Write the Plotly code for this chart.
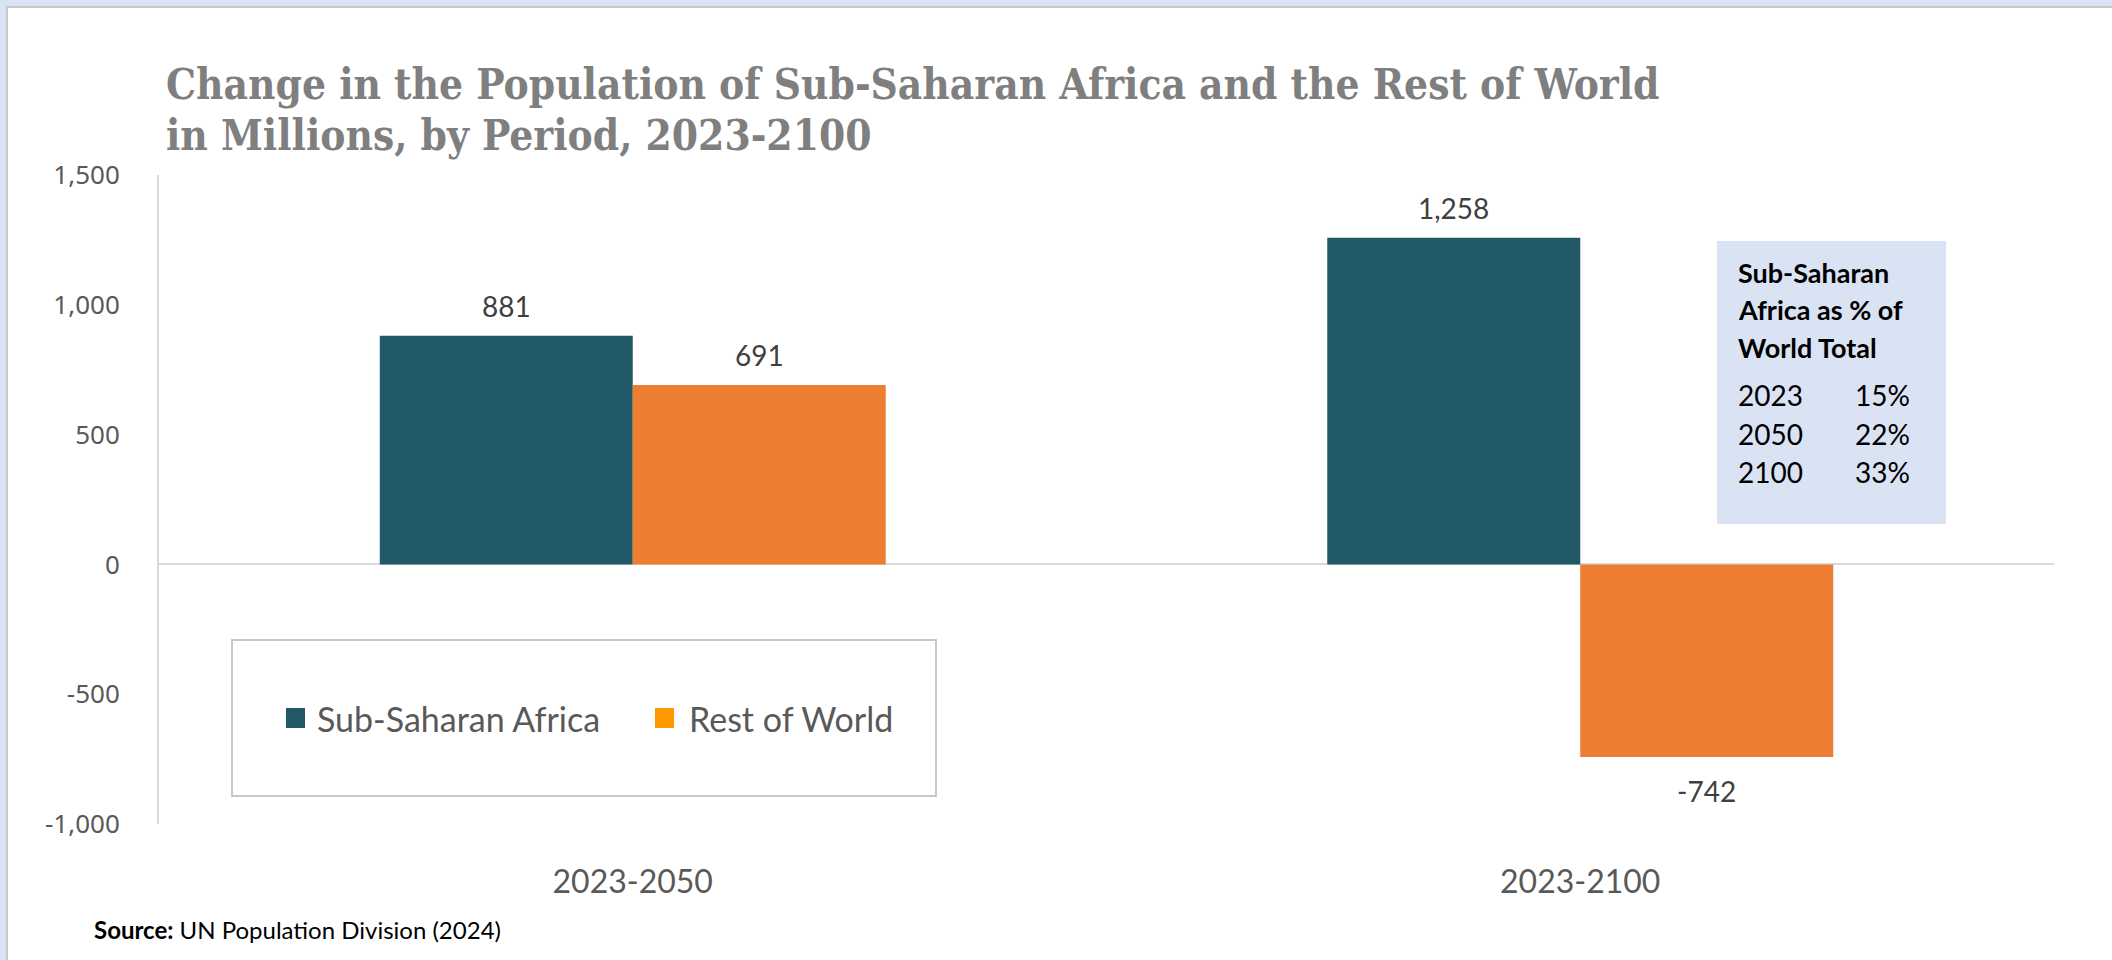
import plotly.graph_objects as go

# Data (millions)
periods = ["2023-2050", "2023-2100"]
ssa_change = [881, 1258]
row_change = [691, -742]
series_names = ["Sub-Saharan Africa", "Rest of World"]
share_years = ["2023", "2050", "2100"]
share_pct = [15, 22, 33]
y_ticks = [-1000, -500, 0, 500, 1000, 1500]

TEAL = "#215968"
ORANGE = "#ED7D31"
LEGEND_ORANGE = "#FF9900"
TXT = "#595959"

W, H = 2112, 960
L, R, T, B = 159, 2054, 175, 824
BARGAP = 0.466


def px(x):
    return (x - L) / (R - L)


def py(y):
    return (B - y) / (B - T)


fig = go.Figure()
fig.add_trace(go.Bar(x=periods, y=ssa_change, name=series_names[0],
                     marker=dict(color=TEAL, line=dict(width=0)), showlegend=False))
fig.add_trace(go.Bar(x=periods, y=row_change, name=series_names[1],
                     marker=dict(color=ORANGE, line=dict(width=0)), showlegend=False))

annotations = []
shapes = []

# value labels above/below each bar
group_w = 1 - BARGAP
for k, vals in enumerate([ssa_change, row_change]):
    offset = -group_w / 4 if k == 0 else group_w / 4
    for i, v in enumerate(vals):
        annotations.append(dict(
            x=i + offset, y=v, xref="x", yref="y", text=f"{v:,}".replace("-", "-"),
            showarrow=False, yanchor="middle", yshift=30 if v >= 0 else -34,
            font=dict(family="Lato", size=28, color="#404040")))

# page frame
shapes.append(dict(type="rect", xref="paper", yref="paper", layer="below",
                   x0=px(7), x1=px(W + 20), y0=py(H + 20), y1=py(7),
                   fillcolor="white", line=dict(color="#C8C8C8", width=2)))

# legend box
shapes.append(dict(type="rect", xref="paper", yref="paper", layer="above",
                   x0=px(232), x1=px(936), y0=py(796), y1=py(640),
                   fillcolor="white", line=dict(color="#C8C8C8", width=2)))
for sx, col, name, tx in [(286, TEAL, series_names[0], 315),
                          (655, LEGEND_ORANGE, series_names[1], 687)]:
    shapes.append(dict(type="rect", xref="paper", yref="paper", layer="above",
                       x0=px(sx), x1=px(sx + 19), y0=py(728), y1=py(708),
                       fillcolor=col, line=dict(width=0)))
    annotations.append(dict(x=px(tx), y=py(718), xref="paper", yref="paper",
                            xanchor="left", yanchor="middle", showarrow=False,
                            text=name, font=dict(family="Lato", size=34, color=TXT)))

# share box
shapes.append(dict(type="rect", xref="paper", yref="paper", layer="above",
                   x0=px(1717), x1=px(1946), y0=py(524), y1=py(241),
                   fillcolor="#DAE3F3", line=dict(width=0)))
heading = ["Sub-Saharan", "Africa as % of", "World Total"]
for j, line in enumerate(heading):
    annotations.append(dict(x=px(1736), y=py(272 + j * 37.7), xref="paper", yref="paper",
                            xanchor="left", yanchor="middle", showarrow=False,
                            text=f"<b>{line}</b>",
                            font=dict(family="Lato", size=27, color="black")))
for j, (yr, pct) in enumerate(zip(share_years, share_pct)):
    yy = py(395 + j * 38.5)
    annotations.append(dict(x=px(1736), y=yy, xref="paper", yref="paper",
                            xanchor="left", yanchor="middle", showarrow=False,
                            text=yr, font=dict(family="Lato", size=28, color="black")))
    annotations.append(dict(x=px(1853), y=yy, xref="paper", yref="paper",
                            xanchor="left", yanchor="middle", showarrow=False,
                            text=f"{pct}%", font=dict(family="Lato", size=28, color="black")))

# title, one annotation per line
title_lines = ["Change in the Population of Sub-Saharan Africa and the Rest of World",
               "in Millions, by Period, 2023-2100"]
for j, line in enumerate(title_lines):
    annotations.append(dict(x=px(164), y=py(84 + j * 51), xref="paper", yref="paper",
                            xanchor="left", yanchor="middle", showarrow=False,
                            text=f"<b>{line}</b>",
                            font=dict(family="DejaVu Serif Condensed", size=42,
                                      color="#7F7F7F")))

# source
annotations.append(dict(x=px(92), y=py(929), xref="paper", yref="paper",
                        xanchor="left", yanchor="middle", showarrow=False,
                        text="<b>Source:</b> UN Population Division (2024)",
                        font=dict(family="Lato", size=24, color="black")))

fig.update_layout(
    width=W, height=H,
    margin=dict(l=L, r=W - R, t=T, b=H - B, pad=0),
    paper_bgcolor="#DAE3F3", plot_bgcolor="rgba(0,0,0,0)",
    barmode="group", bargap=BARGAP, bargroupgap=0,
    showlegend=False,
    shapes=shapes, annotations=annotations,
    xaxis=dict(showgrid=False, showline=False, zeroline=False, ticks="",
               tickfont=dict(family="Lato", size=32, color=TXT), ticklabelstandoff=36),
    yaxis=dict(range=[-1000, 1500], tickvals=y_ticks,
               ticktext=[f"{v:,}" for v in y_ticks],
               showgrid=False, showline=True, linecolor="#D9D9D9", linewidth=2,
               zeroline=True, zerolinecolor="#D9D9D9", zerolinewidth=2,
               ticks="", ticklabelstandoff=32,
               tickfont=dict(family="Noto Sans", size=26, color=TXT)),
)

fig.write_html("out.html")
